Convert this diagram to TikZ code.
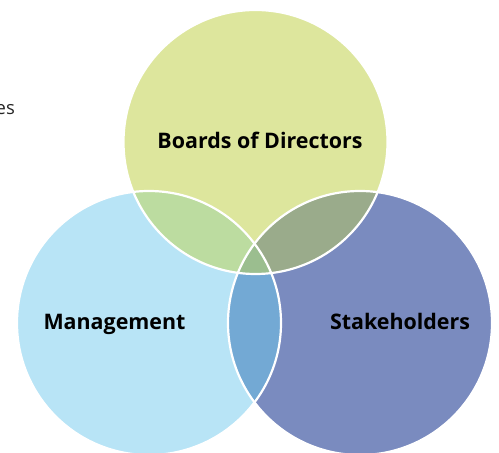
\documentclass[tikz,border=0pt]{standalone}
\usepackage{fontspec}
\setmainfont{Open Sans}
\definecolor{cTop}{HTML}{DDE69D}
\definecolor{cLeft}{HTML}{B8E4F6}
\definecolor{cRight}{HTML}{7A8BBF}
\definecolor{cTL}{HTML}{BCDCA0}
\definecolor{cTR}{HTML}{9AAB8B}
\definecolor{cLR}{HTML}{73A9D4}
\definecolor{cAll}{HTML}{9BBE8F}
\tikzset{
  lbl/.style={font=\fontsize{21.5}{24}\selectfont\bfseries, text=black, inner sep=0pt},
  ring/.style={draw=white, line width=2.2bp}
}
\begin{document}
\begin{tikzpicture}[x=1bp,y=-1bp]
\useasboundingbox (0,0) rectangle (499,453);
\def\rr{132}
\coordinate (T) at (255.5,142);
\coordinate (L) at (149,323);
\coordinate (R) at (360,323);
% base circles
\fill[cTop] (T) circle (\rr);
\fill[cLeft] (L) circle (\rr);
\fill[cRight] (R) circle (\rr);
% pairwise overlaps
\begin{scope}\clip (T) circle (\rr); \fill[cTL] (L) circle (\rr);\end{scope}
\begin{scope}\clip (T) circle (\rr); \fill[cTR] (R) circle (\rr);\end{scope}
\begin{scope}\clip (L) circle (\rr); \fill[cLR] (R) circle (\rr);\end{scope}
\begin{scope}\clip (T) circle (\rr); \clip (L) circle (\rr); \fill[cAll] (R) circle (\rr);\end{scope}
% outlines
\draw[ring] (T) circle (\rr);
\draw[ring] (L) circle (\rr);
\draw[ring] (R) circle (\rr);
% labels
\node[lbl, anchor=base] (board) at (260,149) {Boards of Directors};
\node[lbl, anchor=base] (mgmt) at (114.5,329) {Management};
\node[lbl, anchor=base] (stake) at (400,329) {Stakeholders};
\node[anchor=base east, inner sep=0pt, font=\fontsize{18.5}{22}\selectfont, text=black!85] (frag) at (15,114.5) {es};
\end{tikzpicture}
\end{document}
